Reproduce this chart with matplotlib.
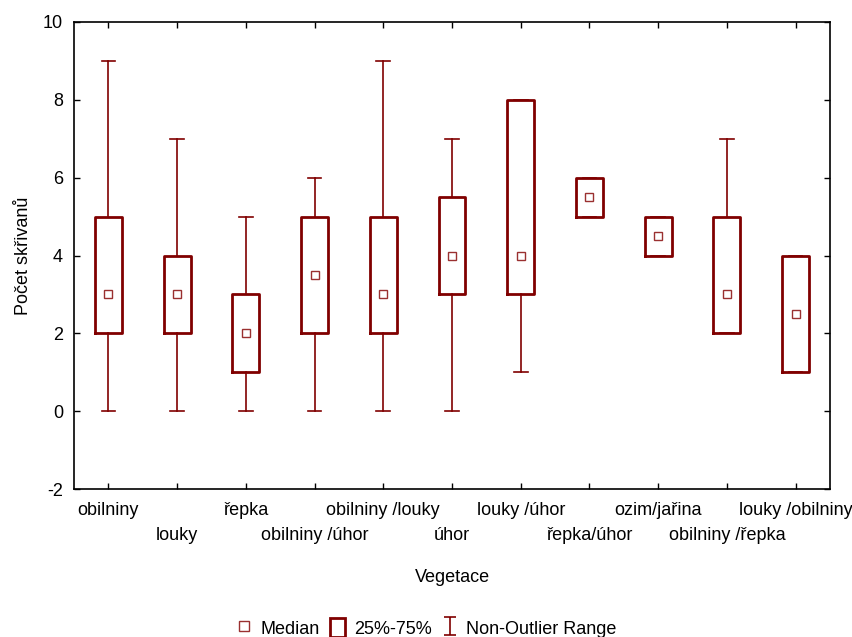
import matplotlib.pyplot as plt
from matplotlib.lines import Line2D
from matplotlib.patches import Patch
from matplotlib.path import Path

plt.rcParams["font.family"] = ["Liberation Sans", "DejaVu Sans"]
plt.rcParams["axes.unicode_minus"] = False

categories = ["obilniny", "louky", "řepka", "obilniny /úhor", "obilniny /louky",
              "úhor", "louky /úhor", "řepka/úhor", "ozim/jařina",
              "obilniny /řepka", "louky /obilniny"]
whisker_low = [0, 0, 0, 0, 0, 0, 1, 5, 4, 2, 1]
q1 = [2, 2, 1, 2, 2, 3, 3, 5, 4, 2, 1]
median = [3, 3, 2, 3.5, 3, 4, 4, 5.5, 4.5, 3, 2.5]
q3 = [5, 4, 3, 5, 5, 5.5, 8, 6, 5, 5, 4]
whisker_high = [9, 7, 5, 6, 9, 7, 8, 6, 5, 7, 4]

RED = "#800000"

fig = plt.figure(figsize=(8.53, 6.37), dpi=100)
ax = fig.add_axes([0.0868, 0.2323, 0.8862, 0.7332])

stats = []
for i, name in enumerate(categories):
    stats.append({"label": name, "whislo": whisker_low[i], "q1": q1[i],
                  "med": median[i], "q3": q3[i], "whishi": whisker_high[i],
                  "fliers": []})

positions = list(range(len(categories)))
ax.bxp(stats, positions=positions, widths=0.39, showfliers=False,
       boxprops=dict(color=RED, linewidth=2.0),
       whiskerprops=dict(color=RED, linewidth=1.2),
       capprops=dict(color=RED, linewidth=1.2),
       medianprops=dict(linestyle="none"),
       capwidths=0.2, manage_ticks=False)
ax.plot(positions, median, linestyle="none", marker="s", markersize=6,
        markerfacecolor="white", markeredgecolor="#9a3030",
        markeredgewidth=1.0, zorder=5)

ax.set_xlim(-0.5, len(categories) - 0.5)
ax.set_ylim(-2, 10)
ax.set_yticks(range(-2, 11, 2))
ax.set_xticks(positions)
ax.set_xticklabels(categories)
ax.tick_params(direction="in", top=True, right=True, length=4, width=1,
               labelsize=13)
ax.tick_params(axis="y", pad=8)
for i, tick in enumerate(ax.xaxis.get_major_ticks()):
    tick.set_pad(9 if i % 2 == 0 else 27)
for s in ax.spines.values():
    s.set_linewidth(1.2)

ax.set_xlabel("Vegetace", fontsize=13, labelpad=18)
ax.set_ylabel("Počet skřivanů", fontsize=13, labelpad=8)

ibeam = Path([(-0.7, 1), (0.7, 1), (0, 1), (0, -1), (-0.7, -1), (0.7, -1)],
             [Path.MOVETO, Path.LINETO, Path.MOVETO, Path.LINETO,
              Path.MOVETO, Path.LINETO])
handles = [
    Line2D([], [], linestyle="none", marker="s", markersize=7,
           markerfacecolor="white", markeredgecolor="#9a3030"),
    Patch(facecolor="white", edgecolor=RED, linewidth=2),
    Line2D([], [], linestyle="none", marker=ibeam, markersize=13,
           markerfacecolor="none", markeredgecolor=RED, markeredgewidth=1.2),
]
fig.legend(handles, ["Median", "25%-75%", "Non-Outlier Range"], ncol=3,
           loc="center", bbox_to_anchor=(0.5, 1 - 628 / 637), frameon=False,
           fontsize=13, handlelength=0.8, handleheight=1.2,
           handletextpad=0.5, columnspacing=0.6)

fig.savefig("out.png", dpi=100)
